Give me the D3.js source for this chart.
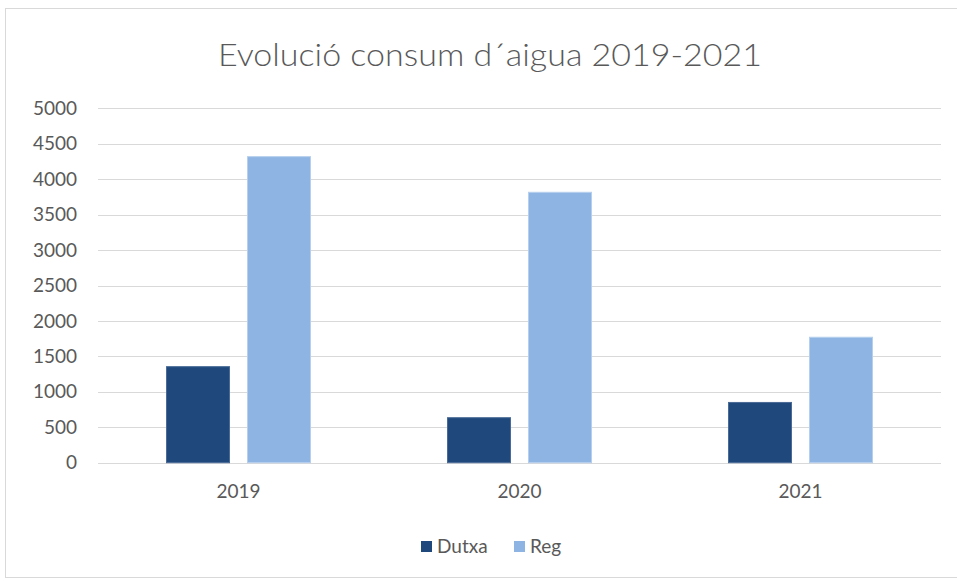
<!DOCTYPE html>
<html>
<head>
<meta charset="utf-8">
<script src="https://cdn.jsdelivr.net/npm/d3@7"></script>
<style>
  body { margin: 0; background: #fff; }
  text { font-family: Lato, "Open Sans", sans-serif; fill: #595959; }
</style>
</head>
<body>
<svg id="chart" width="957" height="581"></svg>
<script>
var years = ["2019", "2020", "2021"];
var seriesNames = ["Dutxa", "Reg"];
var dutxa = [1355, 635, 850];
var reg = [4318, 3815, 1770];
var yTicks = [0, 500, 1000, 1500, 2000, 2500, 3000, 3500, 4000, 4500, 5000];
var colors = ["#1f497d", "#8eb4e3"];

var svg = d3.select("#chart");
var width = 957, height = 581;
var margin = { top: 108, right: 16, bottom: 118, left: 98 };

// chart frame
svg.append("rect")
    .attr("x", 5.5).attr("y", 8.5)
    .attr("width", width + 10).attr("height", height - 12)
    .attr("fill", "white")
    .attr("stroke", "#d9d9d9");

svg.append("text")
    .attr("x", 490).attr("y", 66)
    .attr("text-anchor", "middle")
    .attr("font-size", 31)
    .attr("font-weight", 300)
    .attr("textLength", 544)
    .attr("lengthAdjust", "spacingAndGlyphs")
    .text("Evolució consum d´aigua 2019-2021");

var xScale = d3.scaleBand()
    .domain(years)
    .range([margin.left, 941]);
var xInner = d3.scaleBand()
    .domain(seriesNames)
    .range([0, 144])
    .paddingInner(18 / 81);
var yScale = d3.scaleLinear()
    .domain([0, 5000])
    .range([462.7, 108.3]);

// grid
svg.append("g")
    .selectAll("line")
    .data(yTicks)
    .enter().append("line")
    .attr("x1", margin.left).attr("x2", 941)
    .attr("y1", d => Math.round(yScale(d)) + 0.5)
    .attr("y2", d => Math.round(yScale(d)) + 0.5)
    .attr("stroke", "#d9d9d9")
    .attr("stroke-width", 1);

var yAxis = d3.axisLeft(yScale).tickValues(yTicks).tickFormat(d3.format("d")).tickSize(0).tickPadding(0);
svg.append("g")
    .attr("transform", "translate(" + [77, 0] + ")")
    .call(yAxis)
    .call(g => g.select(".domain").remove())
    .selectAll("text")
    .attr("font-size", 19)
    .attr("fill", "#595959")
    .attr("font-family", "Lato, sans-serif");

var xAxis = d3.axisBottom(xScale).tickSize(0).tickPadding(0);
svg.append("g")
    .attr("transform", "translate(" + [0, 484] + ")")
    .call(xAxis)
    .call(g => g.select(".domain").remove())
    .selectAll("text")
    .attr("font-size", 19)
    .attr("fill", "#595959")
    .attr("font-family", "Lato, sans-serif");

var rows = years.map((y, i) => ({ year: y, values: [dutxa[i], reg[i]] }));

var groups = svg.append("g")
    .selectAll("g")
    .data(rows)
    .enter().append("g")
    .attr("transform", d => "translate(" + [xScale(d.year) + (xScale.bandwidth() - 144) / 2, 0] + ")");

groups.selectAll("rect")
    .data(d => d.values.map((v, i) => ({ name: seriesNames[i], value: v, i: i })))
    .enter().append("rect")
    .attr("x", d => xInner(d.name))
    .attr("y", d => yScale(d.value))
    .attr("width", xInner.bandwidth())
    .attr("height", d => yScale(0) - yScale(d.value))
    .attr("fill", d => colors[d.i])
    .attr("stroke", d => d.i == 0 ? "#4a6b96" : "#b7cfee")
    .attr("stroke-width", 1);

// legend
var legendX = [421, 514];
var legend = svg.append("g")
    .selectAll("g")
    .data(seriesNames)
    .enter().append("g")
    .attr("transform", (d, i) => "translate(" + [legendX[i], 541] + ")");
legend.append("rect")
    .attr("width", 11).attr("height", 11)
    .attr("fill", (d, i) => colors[i]);
legend.append("text")
    .attr("x", 16).attr("y", 12)
    .attr("font-size", 19)
    .text(d => d);
</script>
</body>
</html>
